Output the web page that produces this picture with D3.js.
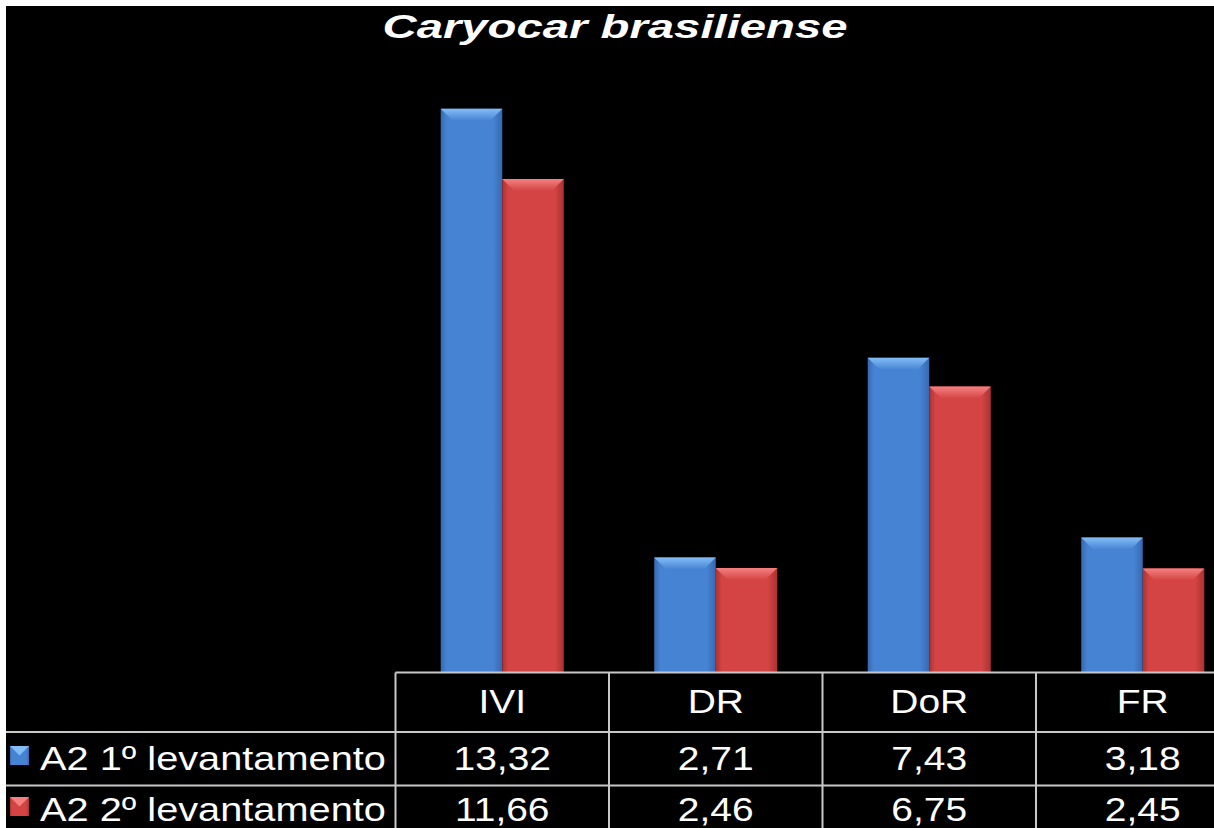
<!DOCTYPE html>
<meta charset="utf-8">
<style>
body { margin: 0; background: #fff; }
svg { display: block; }
.cell { font-family: "Liberation Sans", Arial, sans-serif; font-size: 33px; fill: #fff; }
.title { font-family: "Liberation Sans", Arial, sans-serif; font-size: 33px; font-weight: bold; font-style: italic; fill: #fff; }
.grid { stroke: #c8c8c8; stroke-width: 2px; }
</style>
<div id="chart"></div>
<script src="https://d3js.org/d3.v7.min.js"></script>
<script>
var categories = ["IVI", "DR", "DoR", "FR"];
var seriesNames = ["A2 1º levantamento", "A2 2º levantamento"];
var survey1 = [13.32, 2.71, 7.43, 3.18];
var survey2 = [11.66, 2.46, 6.75, 2.45];
var titleText = "Caryocar brasiliense";

var width = 1214, height = 828;
var series = [survey1, survey2];
// base, dark edge, light top
var colors = [
  {base: "#4783d3", dark: "#3769b0", light: "#82bdf7"},
  {base: "#d44444", dark: "#ab3232", light: "#f58080"}
];

var svg = d3.select("#chart").append("svg")
    .attr("width", width)
    .attr("height", height);

// black panel, thin white margin top/left
svg.append("rect")
    .attr("x", 6).attr("y", 6)
    .attr("width", width - 6).attr("height", height - 6)
    .attr("fill", "#000");

var defs = svg.append("defs");
colors.forEach(function(c, i) {
  var g = defs.append("linearGradient").attr("id", "body" + i)
      .attr("x1", 0).attr("x2", 1).attr("y1", 0).attr("y2", 0);
  g.append("stop").attr("offset", "0%").attr("stop-color", c.dark);
  g.append("stop").attr("offset", "10%").attr("stop-color", c.base);
  g.append("stop").attr("offset", "85%").attr("stop-color", c.base);
  g.append("stop").attr("offset", "100%").attr("stop-color", c.dark);
  var t = defs.append("linearGradient").attr("id", "top" + i)
      .attr("x1", 0).attr("x2", 0).attr("y1", 0).attr("y2", 1);
  t.append("stop").attr("offset", "0%").attr("stop-color", c.light);
  t.append("stop").attr("offset", "100%").attr("stop-color", c.base);
});

var x = d3.scaleBand()
    .domain(categories)
    .range([395.5, 395.5 + 4 * 213.5]);
var x1 = d3.scaleBand()
    .domain([0, 1])
    .range([0, x.bandwidth()])
    .paddingOuter(0.735);
var y = d3.scaleLinear()
    .domain([0, 14])
    .range([672, 80]);

var bevel = 12;
series.forEach(function(vals, si) {
  var g = svg.append("g");
  vals.forEach(function(v, ci) {
    var bx = x(categories[ci]) + x1(si), bw = x1.bandwidth();
    var by = y(v), bh = y(0) - y(v);
    g.append("rect")
        .attr("x", bx).attr("y", by)
        .attr("width", bw).attr("height", bh)
        .attr("fill", "url(#body" + si + ")");
    g.append("path")
        .attr("d", "M" + bx + "," + by + "H" + (bx + bw) +
             "L" + (bx + bw - bevel) + "," + (by + bevel) +
             "H" + (bx + bevel) + "Z")
        .attr("fill", "url(#top" + si + ")");
  });
});

// title
svg.append("text")
    .attr("class", "title")
    .attr("x", 615).attr("y", 38)
    .attr("text-anchor", "middle")
    .attr("textLength", 465)
    .attr("lengthAdjust", "spacingAndGlyphs")
    .text(titleText);

// data table
var rowLines = [672.5, 732, 785.5];
var colLines = [395.5].concat(categories.slice(1).map(function(c) { return x(c); }));
svg.append("line").attr("class", "grid")
    .attr("x1", 395.5).attr("x2", width).attr("y1", rowLines[0]).attr("y2", rowLines[0]);
rowLines.slice(1).forEach(function(r) {
  svg.append("line").attr("class", "grid")
      .attr("x1", 6).attr("x2", width).attr("y1", r).attr("y2", r);
});
colLines.forEach(function(c) {
  svg.append("line").attr("class", "grid")
      .attr("x1", c).attr("x2", c).attr("y1", rowLines[0]).attr("y2", height);
});

var fmt = d3.formatLocale({decimal: ",", thousands: ".", grouping: [3], currency: ["", ""]}).format(".2f");
function cell(txt, cx, cy, anchor, sx) {
  svg.append("text")
      .attr("class", "cell")
      .attr("text-anchor", anchor || "middle")
      .attr("transform", "translate(" + cx + "," + cy + ") scale(" + (sx || 1.18) + ",1)")
      .text(txt);
}
var baselines = [713, 770, 821];
categories.forEach(function(c) {
  cell(c, x(c) + x.bandwidth() / 2, baselines[0]);
});
series.forEach(function(vals, si) {
  vals.forEach(function(v, ci) {
    cell(fmt(v), x(categories[ci]) + x.bandwidth() / 2, baselines[si + 1]);
  });
  // legend key
  var ky = baselines[si + 1] - 24, ks = 19;
  svg.append("rect")
      .attr("x", 10).attr("y", ky).attr("width", ks).attr("height", ks)
      .attr("fill", "url(#body" + si + ")");
  svg.append("path")
      .attr("d", "M10," + ky + "H" + (10 + ks) + "L" + (10 + ks / 2) + "," + (ky + ks / 2) + "Z")
      .attr("fill", colors[si].light);
  cell(seriesNames[si], 40, baselines[si + 1], "start", 1.205);
});
</script>
